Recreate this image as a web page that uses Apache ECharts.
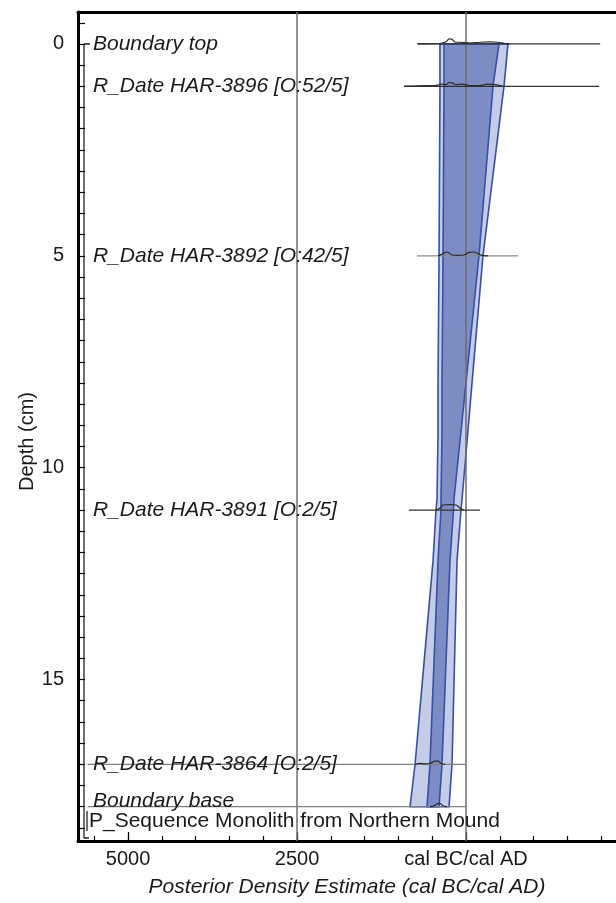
<!DOCTYPE html>
<html>
<head>
<meta charset="utf-8">
<script src="https://cdn.jsdelivr.net/npm/echarts@6/dist/echarts.min.js"></script>
<style>
html, body { margin: 0; padding: 0; background: #fff; }
#chart { width: 616px; height: 903px; }
</style>
</head>
<body>
<div id="chart"></div>
<script>
// depth model envelope, years (negative = cal BC)
const envDepth = [0, 1, 5, 8, 9.2, 10.75, 11, 12.2, 17, 18];
const lo95 = [-385, -385, -399, -414, -414, -429, -444, -488, -754, -828];
const lo68 = [-325, -325, -340, -355, -355, -370, -370, -414, -533, -577];
const hi68 = [488, 399, 192, 0, -78, -178, -185, -237, -355, -399];
const hi95 = [621, 562, 251, 89, 25, -59, -74, -133, -207, -251];

// model items
const itemNames = ["Boundary top", "R_Date HAR-3896 [O:52/5]", "R_Date HAR-3892 [O:42/5]",
    "R_Date HAR-3891 [O:2/5]", "R_Date HAR-3864 [O:2/5]", "Boundary base"];
const itemDepth = [0, 1, 5, 11, 17, 18];
const rangeFrom = [-725, -915, -725, -845, -5600, -5600];
const rangeTo = [1985, 1970, 770, 206, 0, 0];
const rangeColor = ["#333", "#333", "#8a8a8a", "#333", "#808080", "#808080"];

// small posterior curves: [year, height in cm above the item line]
const curves = [
    [[-710, 0], [-385, 0.01], [-296, 0.05], [-251, 0.12], [-207, 0.11], [-163, 0.04], [-89, 0.04], [59, 0.02], [207, 0.04], [355, 0.05], [459, 0.04], [577, 0.01], [651, 0]],
    [[-917, 0], [-754, 0.01], [-607, 0.02], [-459, 0.02], [-355, 0.05], [-296, 0.04], [-251, 0.09], [-207, 0.08], [-148, 0.04], [-59, 0.05], [59, 0.02], [207, 0.02], [325, 0.05], [429, 0.04], [547, 0]],
    [[-414, 0], [-340, 0.05], [-296, 0.09], [-251, 0.07], [-207, 0.02], [-118, 0.01], [-30, 0.02], [44, 0.08], [118, 0.09], [178, 0.05], [237, 0.01], [325, 0]],
    [[-444, 0], [-385, 0.05], [-340, 0.12], [-237, 0.13], [-148, 0.12], [-89, 0.05], [-30, 0]],
    [[-754, 0], [-680, 0.02], [-607, 0.01], [-533, 0.02], [-473, 0.07], [-414, 0.08], [-370, 0.02], [-311, 0]],
    [[-533, 0], [-473, 0.02], [-429, 0.07], [-385, 0.08], [-340, 0.02], [-281, 0]]
];

const xTickLabels = [-5000, -2500, 0];
const xGridLines = [-2500, 0];
const yTickLabels = [0, 5, 10, 15];
const xMinorTicks = [];
for (let v = -5500; v <= 2000; v += 500) xMinorTicks.push(v);
const yMinorTicks = [];
for (let v = -0.5; v <= 18.5; v += 0.5) yMinorTicks.push(v);

const seqLabel = "P_Sequence Monolith from Northern Mound";
const FONT = '"Liberation Sans", Arial, sans-serif';
const BLUE = "#3550ad";

const X_MIN = -5740, X_MAX = 2219;
const Y_MIN = -0.754, Y_MAX = 18.81;

function envelope(lo, hi, fill) {
    return function (params, api) {
        if (params.dataIndex !== 0) return;
        const pts = [];
        for (let i = 0; i < envDepth.length; i++) pts.push(api.coord([lo[i], envDepth[i]]));
        for (let i = envDepth.length - 1; i >= 0; i--) pts.push(api.coord([hi[i], envDepth[i]]));
        return {
            type: "polygon",
            shape: { points: pts },
            style: { fill: fill, stroke: BLUE, lineWidth: 1.6 }
        };
    };
}

const chart = echarts.init(document.getElementById("chart"));

const series = [
    {
        type: "custom",
        name: "95%",
        data: envDepth.map((d, i) => [lo95[i], d]),
        encode: { x: 0, y: 1 },
        renderItem: envelope(lo95, hi95, "#c5cce6"),
        silent: true,
        z: 2
    },
    {
        type: "custom",
        name: "68%",
        data: envDepth.map((d, i) => [lo68[i], d]),
        encode: { x: 0, y: 1 },
        renderItem: envelope(lo68, hi68, "#7d8cc2"),
        silent: true,
        z: 3
    },
    {
        type: "line",
        data: [],
        silent: true,
        z: 4,
        markLine: {
            symbol: ["none", "none"],
            silent: true,
            label: { show: false },
            lineStyle: { color: "#6e6e6e", width: 1.5, type: "solid" },
            data: xGridLines.map(v => ({ xAxis: v }))
        }
    },
    {
        type: "custom",
        name: "ranges",
        data: itemDepth.map((d, i) => [rangeFrom[i], rangeTo[i], d]),
        renderItem: function (params, api) {
            const i = params.dataIndex;
            const a = api.coord([api.value(0), api.value(2)]);
            const b = api.coord([api.value(1), api.value(2)]);
            return {
                type: "line",
                shape: { x1: a[0], y1: a[1], x2: b[0], y2: b[1] },
                style: { stroke: rangeColor[i], lineWidth: 1.2 }
            };
        },
        silent: true,
        z: 5
    },
    {
        type: "custom",
        name: "labels",
        data: itemDepth.map((d, i) => [0, d]),
        renderItem: function (params, api) {
            const i = params.dataIndex;
            const p = api.coord([0, itemDepth[i]]);
            return {
                type: "text",
                x: params.coordSys.x + 15,
                y: p[1] + (i === itemDepth.length - 1 ? -6 : 0),
                style: {
                    text: itemNames[i],
                    font: "italic 21px " + FONT,
                    fill: "#1a1a1a",
                    align: "left",
                    verticalAlign: "middle"
                }
            };
        },
        silent: true,
        z: 7
    },
    {
        type: "custom",
        name: "sequence",
        data: [[0, 0]],
        renderItem: function (params, api) {
            const x0 = params.coordSys.x;
            const top = api.coord([0, 0])[1];
            const bot = params.coordSys.y + params.coordSys.height - 3;
            return {
                type: "group",
                children: [
                    { type: "line", shape: { x1: x0 + 6, y1: top, x2: x0 + 6, y2: bot }, style: { stroke: "#111", lineWidth: 1.2 } },
                    { type: "line", shape: { x1: x0 + 6, y1: top, x2: x0 + 12, y2: top }, style: { stroke: "#111", lineWidth: 1.4 } },
                    { type: "line", shape: { x1: x0 + 6, y1: bot, x2: x0 + 11, y2: bot }, style: { stroke: "#111", lineWidth: 1.4 } },
                    { type: "line", shape: { x1: x0 + 9, y1: bot - 27, x2: x0 + 9, y2: bot - 7 }, style: { stroke: "#111", lineWidth: 1.2 } },
                    {
                        type: "text",
                        x: x0 + 11,
                        y: bot - 17,
                        style: { text: seqLabel, font: "21px " + FONT, fill: "#1a1a1a", align: "left", verticalAlign: "middle" }
                    }
                ]
            };
        },
        silent: true,
        z: 7
    }
];

curves.forEach((c, k) => {
    series.push({
        type: "line",
        data: c.map(p => [p[0], itemDepth[k] - p[1]]),
        symbol: "none",
        smooth: 0.3,
        lineStyle: { color: "#2b2b2b", width: 1.2 },
        silent: true,
        z: 6
    });
});

chart.setOption({
    animation: false,
    grid: { left: 78, right: 0, top: 12, bottom: 61 },
    xAxis: [
        {
            type: "value",
            min: X_MIN,
            max: X_MAX,
            position: "bottom",
            axisLine: { show: true, onZero: false, lineStyle: { color: "#000", width: 3 } },
            axisTick: { show: true, inside: true, length: 9, customValues: xTickLabels, lineStyle: { color: "#000", width: 1.2 } },
            axisLabel: {
                customValues: xTickLabels,
                margin: 8,
                color: "#1a1a1a",
                fontSize: 20,
                fontFamily: FONT,
                formatter: v => (v === 0 ? "cal BC/cal AD" : String(Math.abs(v)))
            },
            splitLine: { show: false },
            name: "Posterior Density Estimate (cal BC/cal AD)",
            nameLocation: "middle",
            nameGap: 36,
            nameMoveOverlap: false,
            nameTextStyle: { fontSize: 21, fontStyle: "italic", fontFamily: FONT, color: "#1a1a1a" }
        },
        {
            type: "value",
            min: X_MIN,
            max: X_MAX,
            position: "bottom",
            axisLine: { show: false, onZero: false },
            axisTick: { show: true, inside: true, length: 5, customValues: xMinorTicks, lineStyle: { color: "#000", width: 1.2 } },
            axisLabel: { show: false },
            splitLine: { show: false }
        },
        {
            type: "value",
            min: X_MIN,
            max: X_MAX,
            position: "top",
            axisLine: { show: true, onZero: false, lineStyle: { color: "#000", width: 3 } },
            axisTick: { show: false },
            axisLabel: { show: false },
            splitLine: { show: false }
        }
    ],
    yAxis: {
        type: "value",
        inverse: true,
        min: Y_MIN,
        max: Y_MAX,
        position: "left",
        axisLine: { show: true, onZero: false, lineStyle: { color: "#000", width: 3 } },
        axisTick: { show: true, inside: true, length: 7, customValues: yMinorTicks, lineStyle: { color: "#000", width: 1.2 } },
        axisLabel: { customValues: yTickLabels, margin: 14, color: "#1a1a1a", fontSize: 20, fontFamily: FONT },
        splitLine: { show: false },
        name: "Depth (cm)",
        nameLocation: "middle",
        nameRotate: 90,
        nameGap: 41,
        nameMoveOverlap: false,
        nameTextStyle: { fontSize: 20, fontFamily: FONT, color: "#1a1a1a", padding: [0, 30, 0, 0] }
    },
    series: series
});
</script>
</body>
</html>
